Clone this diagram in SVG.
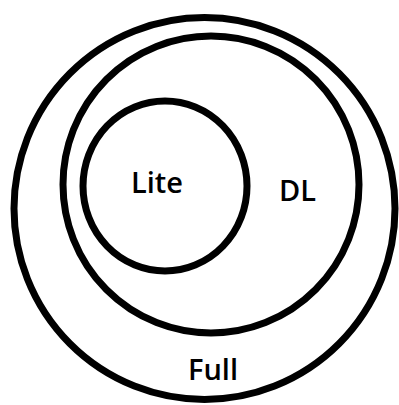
<svg xmlns="http://www.w3.org/2000/svg" width="399" height="405" viewBox="0 0 399 405">
<style>
.ring{fill:none;stroke:#000;stroke-width:7}
.lbl{font-family:"Open Sans","Noto Sans",sans-serif;font-weight:600;font-size:29px;fill:#000}
</style>
<rect width="399" height="405" fill="#fff"/>
<g id="full"><ellipse class="ring" cx="204.5" cy="208.5" rx="190.5" ry="191"/><text class="lbl" x="188" y="380">Full</text></g>
<g id="dl"><ellipse class="ring" cx="211" cy="184.5" rx="148" ry="148.5"/><text class="lbl" x="279" y="201">DL</text></g>
<g id="lite"><ellipse class="ring" cx="165" cy="186" rx="82" ry="85"/><text class="lbl" x="131" y="193">Lite</text></g>
<g id="connectors"/>
</svg>
